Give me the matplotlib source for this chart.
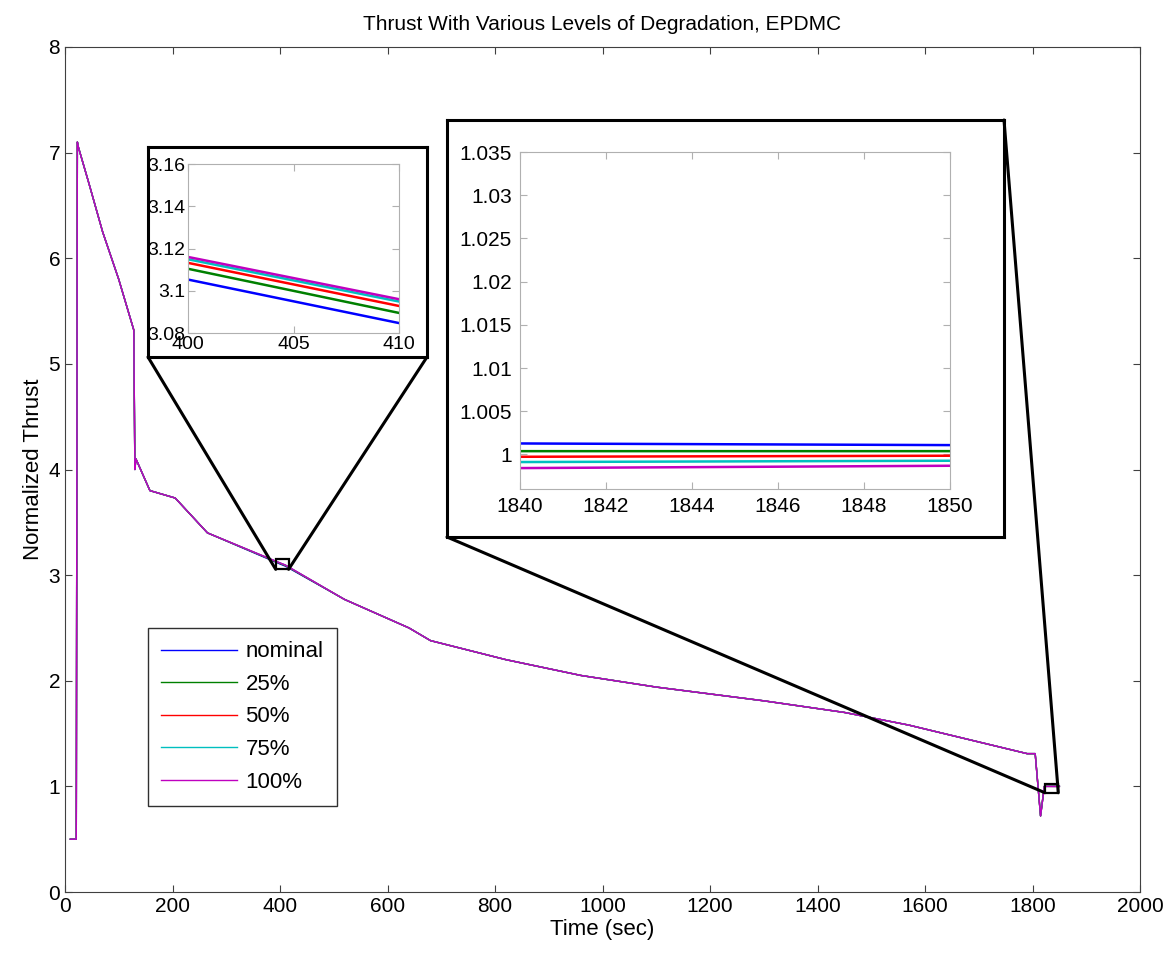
import matplotlib
matplotlib.use("Agg")
import matplotlib.pyplot as plt
from matplotlib.patches import Rectangle, ConnectionPatch
from matplotlib.ticker import FuncFormatter

plt.rcParams['font.family'] = ['Liberation Sans', 'DejaVu Sans']

# shared trace (all five cases overlap at full scale)
t_main = [10, 21, 23, 25, 45, 70, 100, 128, 130, 132, 158, 205, 265, 400, 410,
          520, 640, 680, 820, 960, 1100, 1300, 1450, 1570, 1790, 1805, 1815, 1822,
          1840, 1850]
v_main = [0.5, 0.5, 7.1, 7.05, 6.7, 6.25, 5.8, 5.32, 4.0, 4.1, 3.8, 3.73, 3.4, 3.11, 3.09,
          2.77, 2.5, 2.38, 2.2, 2.05, 1.94, 1.81, 1.70, 1.58, 1.31, 1.31, 0.72, 1.0,
          1.0, 1.0]

labels = ['nominal', '25%', '50%', '75%', '100%']
colors = ['#0000ff', '#008000', '#ff0000', '#00bfbf', '#bf00bf']

# values, per case
t_win1 = [400, 410]
v_win1 = {
    'nominal': [3.1053, 3.0847],
    '25%': [3.1104, 3.0895],
    '50%': [3.1132, 3.0928],
    '75%': [3.1149, 3.0949],
    '100%': [3.1160, 3.0960],
}
t_win2 = [1840, 1850]
v_win2 = {
    'nominal': [1.00127, 1.00108],
    '25%': [1.00038, 1.00038],
    '50%': [0.99973, 0.99985],
    '75%': [0.99912, 0.99927],
    '100%': [0.99842, 0.99869],
}

W, H = 1170, 957
fig = plt.figure(figsize=(W / 100, H / 100), dpi=100)


def px_box(x0, y0, x1, y1):
    return [x0 / W, 1 - y1 / H, (x1 - x0) / W, (y1 - y0) / H]


def series(lab):
    v = list(v_main)
    i1 = t_main.index(t_win1[0])
    v[i1:i1 + 2] = v_win1[lab]
    i2 = t_main.index(t_win2[0])
    v[i2:i2 + 2] = v_win2[lab]
    return v


def matlab_fmt(x, pos):
    s = '%.4f' % x
    return s.rstrip('0').rstrip('.')


def style_axes(a, spine_col, fs):
    for sp in a.spines.values():
        sp.set_color(spine_col)
    a.tick_params(direction='in', top=True, right=True, labelsize=fs,
                  color=spine_col, length=5)


# main axes
ax = fig.add_axes(px_box(65, 47, 1140, 892))
for lab, c in zip(labels, colors):
    ax.plot(t_main, series(lab), color=c, lw=1.0, label=lab)
ax.set_xlim(0, 2000)
ax.set_ylim(0, 8)
ax.set_xticks(range(0, 2001, 200))
ax.set_yticks(range(0, 9))
style_axes(ax, '#404040', 15)
ax.set_title('Thrust With Various Levels of Degradation, EPDMC', fontsize=15, pad=12)
ax.set_xlabel('Time (sec)', fontsize=16, labelpad=2)
ax.set_ylabel('Normalized Thrust', fontsize=16, labelpad=3)
leg = ax.legend(loc='upper left', bbox_to_anchor=(0.077, 0.3124), fontsize=16,
                fancybox=False, framealpha=1, edgecolor='#303030',
                handlelength=3.4, labelspacing=0.52, borderpad=0.6,
                borderaxespad=0, handletextpad=0.4)
leg.get_frame().set_linewidth(1.0)

# zoom rectangles on the main axes
box1 = Rectangle((392, 3.055), 24, 0.095, fill=False, ec='black', lw=1.6, zorder=5)
box2 = Rectangle((1823, 0.94), 25, 0.085, fill=False, ec='black', lw=1.6, zorder=5)
ax.add_patch(box1)
ax.add_patch(box2)

# inset 1
frame1 = fig.add_axes(px_box(148, 147, 427, 357))
frame1.set_xticks([])
frame1.set_yticks([])
for sp in frame1.spines.values():
    sp.set_linewidth(2.2)
ins1 = fig.add_axes(px_box(188, 164, 399, 333))
for lab, c in zip(labels, colors):
    ins1.plot(t_main, series(lab), color=c, lw=1.8)
ins1.set_xlim(400, 410)
ins1.set_ylim(3.08, 3.16)
ins1.set_xticks([400, 405, 410])
ins1.set_yticks([3.08, 3.10, 3.12, 3.14, 3.16])
ins1.yaxis.set_major_formatter(FuncFormatter(matlab_fmt))
style_axes(ins1, '#b0b0b0', 14)
ins1.tick_params(labelcolor='black', pad=2)

# inset 2
frame2 = fig.add_axes(px_box(447, 120, 1004, 537))
frame2.set_xticks([])
frame2.set_yticks([])
for sp in frame2.spines.values():
    sp.set_linewidth(2.2)
ins2 = fig.add_axes(px_box(520, 152, 950, 489))
for lab, c in zip(labels, colors):
    ins2.plot(t_main, series(lab), color=c, lw=1.8)
ins2.set_xlim(1840, 1850)
ins2.set_ylim(0.996, 1.035)
ins2.set_xticks(range(1840, 1851, 2))
ins2.set_yticks([1.0, 1.005, 1.01, 1.015, 1.02, 1.025, 1.03, 1.035])
ins2.yaxis.set_major_formatter(FuncFormatter(matlab_fmt))
style_axes(ins2, '#b0b0b0', 15)
ins2.tick_params(labelcolor='black', pad=6)

# connector lines from inset frames to the zoom boxes
for fr, xyA, xyB in [(frame1, (0, 0), (392, 3.055)),
                     (frame1, (1, 0), (416, 3.055)),
                     (frame2, (0, 0), (1823, 0.94)),
                     (frame2, (1, 1), (1848, 0.94))]:
    con = ConnectionPatch(xyA=xyA, coordsA=fr.transAxes, xyB=xyB, coordsB=ax.transData,
                          color='black', lw=2.2)
    fig.add_artist(con)

fig.savefig('out.png', dpi=100)
